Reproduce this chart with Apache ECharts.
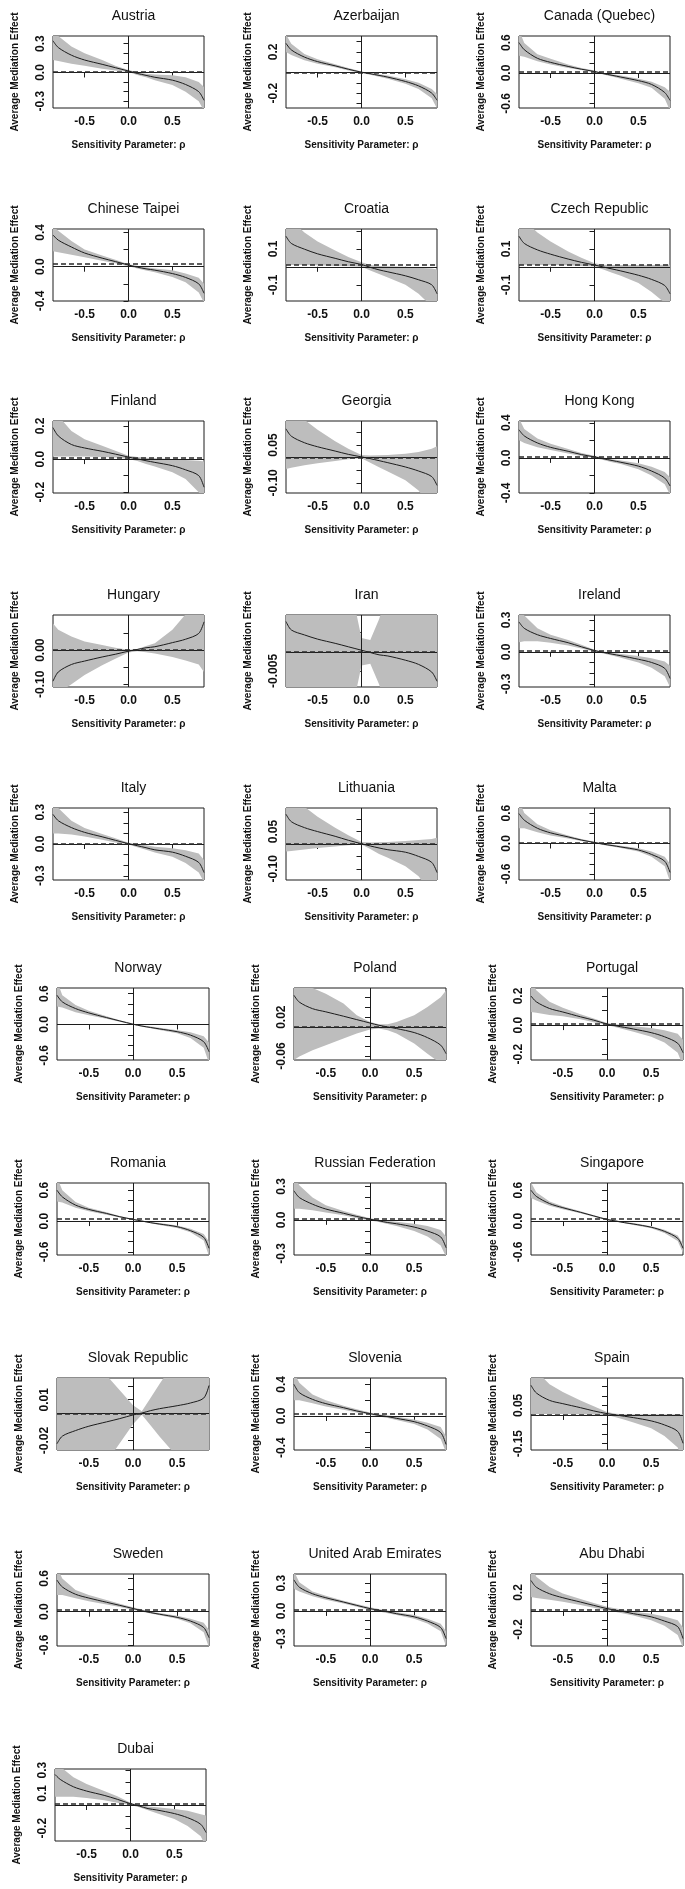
<!DOCTYPE html>
<html>
<head>
<meta charset="utf-8">
<script src="https://cdn.jsdelivr.net/npm/echarts@6/dist/echarts.min.js"></script>
<style>
  html, body { margin: 0; padding: 0; background: #fff; }
  #main { width: 685px; height: 1889px; }
</style>
</head>
<body>
<div id="main"></div>
<script>
// panels, left to right, top to bottom
const countries = ['Austria', 'Azerbaijan', 'Canada (Quebec)', 'Chinese Taipei', 'Croatia', 'Czech Republic',
  'Finland', 'Georgia', 'Hong Kong', 'Hungary', 'Iran', 'Ireland', 'Italy', 'Lithuania', 'Malta',
  'Norway', 'Poland', 'Portugal', 'Romania', 'Russian Federation', 'Singapore',
  'Slovak Republic', 'Slovenia', 'Spain', 'Sweden', 'United Arab Emirates', 'Abu Dhabi', 'Dubai'];

// sensitivity parameter rho (shared grid)
const rho = [-0.86, -0.8, -0.65, -0.5, -0.3, -0.15, 0, 0.1, 0.2, 0.3, 0.5, 0.65, 0.8, 0.86];
const xTicks = [-0.5, 0, 0.5];

const yMin = [-0.37, -0.345, -0.69, -0.4, -0.19, -0.19, -0.205, -0.14, -0.4, -0.108, -0.0092, -0.33, -0.34, -0.145,
  -0.72, -0.69, -0.068, -0.24, -0.66, -0.315, -0.66, -0.027, -0.43, -0.183, -0.62, -0.38, -0.38, -0.31];
const yMax = [0.38, 0.355, 0.73, 0.44, 0.21, 0.21, 0.23, 0.145, 0.42, 0.103, 0.0096, 0.345, 0.34, 0.145,
  0.7, 0.71, 0.08, 0.255, 0.74, 0.33, 0.74, 0.026, 0.48, 0.193, 0.68, 0.4, 0.4, 0.31];

const t01 = [-0.3, -0.2, -0.1, 0, 0.1, 0.2, 0.3];
const t02 = [-0.6, -0.4, -0.2, 0, 0.2, 0.4, 0.6];
const t04 = [-0.4, -0.2, 0, 0.2, 0.4];
const t005 = [-0.1, -0.05, 0, 0.05, 0.1];
const yTicks = [t01, t01, t02, t04, [-0.1, 0, 0.1, 0.2], [-0.1, 0, 0.1, 0.2], [-0.2, -0.1, 0, 0.1, 0.2], t005, t04,
  [-0.1, -0.05, 0, 0.05], [-0.005, 0, 0.005], t01, t01, t005, t02,
  t02, [-0.06, -0.04, -0.02, 0, 0.02, 0.04, 0.06], [-0.2, -0.1, 0, 0.1, 0.2], t02, t01, t02,
  [-0.02, -0.01, 0, 0.01, 0.02], t04, [-0.15, -0.1, -0.05, 0, 0.05, 0.1, 0.15], t02, t01, t01,
  [-0.2, -0.1, 0, 0.1, 0.2, 0.3]];
const yLabels = [['-0.3', '0.0', '0.3'], ['-0.2', '0.2'], ['-0.6', '0.0', '0.6'], ['-0.4', '0.0', '0.4'],
  ['-0.1', '0.1'], ['-0.1', '0.1'], ['-0.2', '0.0', '0.2'], ['-0.10', '0.05'], ['-0.4', '0.0', '0.4'],
  ['-0.10', '0.00'], ['-0.005'], ['-0.3', '0.0', '0.3'], ['-0.3', '0.0', '0.3'], ['-0.10', '0.05'],
  ['-0.6', '0.0', '0.6'], ['-0.6', '0.0', '0.6'], ['-0.06', '0.02'], ['-0.2', '0.0', '0.2'],
  ['-0.6', '0.0', '0.6'], ['-0.3', '0.0', '0.3'], ['-0.6', '0.0', '0.6'], ['-0.02', '0.01'],
  ['-0.4', '0.0', '0.4'], ['-0.15', '0.05'], ['-0.6', '0.0', '0.6'], ['-0.3', '0.0', '0.3'],
  ['-0.2', '0.2'], ['-0.2', '0.1', '0.3']];

// estimated ACME (dashed line); null = not drawn
const acme = [0.012, 0.004, 0.027, 0.025, 0.01, 0.008, 0.012, 0.003, 0.008, -0.001, 0.0002, 0.006, 0.004, 0.001,
  0.01, null, 0.0048, 0.005, 0.045, 0.006, 0.045, 0.0003, 0.03, 0.004, 0.04, 0.007, 0.007, 0.011];

const effect = [
  [0.33, 0.26, 0.18, 0.13, 0.085, 0.05, 0.015, -0.01, -0.03, -0.05, -0.08, -0.125, -0.2, -0.29],
  [0.284, 0.22, 0.15, 0.106, 0.065, 0.032, 0.003, -0.012, -0.028, -0.045, -0.087, -0.13, -0.2, -0.27],
  [0.6, 0.46, 0.29, 0.21, 0.13, 0.075, 0.03, -0.012, -0.045, -0.08, -0.15, -0.225, -0.385, -0.54],
  [0.37, 0.31, 0.23, 0.16, 0.1, 0.06, 0.02, -0.005, -0.025, -0.04, -0.08, -0.125, -0.2, -0.31],
  [0.17, 0.13, 0.098, 0.072, 0.047, 0.028, 0.013, -0.003, -0.017, -0.028, -0.05, -0.072, -0.1, -0.15],
  [0.17, 0.13, 0.094, 0.07, 0.043, 0.025, 0.01, -0.001, -0.012, -0.023, -0.047, -0.07, -0.104, -0.15],
  [0.19, 0.14, 0.088, 0.067, 0.047, 0.03, 0.012, 0.001, -0.01, -0.02, -0.04, -0.065, -0.1, -0.17],
  [0.114, 0.085, 0.059, 0.043, 0.026, 0.013, 0.003, -0.004, -0.012, -0.02, -0.037, -0.053, -0.075, -0.11],
  [0.32, 0.25, 0.17, 0.12, 0.075, 0.038, 0.011, -0.01, -0.03, -0.05, -0.094, -0.15, -0.23, -0.32],
  [-0.091, -0.064, -0.042, -0.032, -0.02, -0.012, -0.003, 0.002, 0.007, 0.01, 0.022, 0.032, 0.049, 0.083],
  [0.0079, 0.0057, 0.0044, 0.0033, 0.0022, 0.0013, 0.0004, -0.0002, -0.0008, -0.0011, -0.0022, -0.0033, -0.0053, -0.0077],
  [0.28, 0.22, 0.16, 0.125, 0.085, 0.047, 0.012, -0.006, -0.022, -0.037, -0.07, -0.1, -0.155, -0.25],
  [0.28, 0.22, 0.155, 0.11, 0.068, 0.035, 0.003, -0.016, -0.035, -0.055, -0.077, -0.116, -0.174, -0.27],
  [0.12, 0.09, 0.066, 0.05, 0.031, 0.015, 0.001, -0.008, -0.016, -0.023, -0.033, -0.05, -0.074, -0.115],
  [0.59, 0.46, 0.3, 0.21, 0.13, 0.068, 0.02, -0.014, -0.04, -0.068, -0.128, -0.216, -0.35, -0.57],
  [0.57, 0.44, 0.31, 0.226, 0.135, 0.07, 0.006, -0.03, -0.058, -0.085, -0.14, -0.206, -0.335, -0.53],
  [0.065, 0.051, 0.0375, 0.031, 0.022, 0.015, 0.008, 0.0034, 0, -0.0034, -0.0116, -0.022, -0.0375, -0.055],
  [0.2, 0.16, 0.114, 0.09, 0.057, 0.034, 0.007, -0.005, -0.016, -0.027, -0.052, -0.08, -0.125, -0.19],
  [0.6, 0.47, 0.31, 0.226, 0.148, 0.084, 0.032, 0, -0.032, -0.058, -0.11, -0.187, -0.316, -0.53],
  [0.26, 0.2, 0.14, 0.097, 0.059, 0.03, 0.006, -0.009, -0.024, -0.035, -0.065, -0.1, -0.153, -0.25],
  [0.6, 0.48, 0.34, 0.26, 0.17, 0.1, 0.03, 0, -0.032, -0.058, -0.12, -0.2, -0.335, -0.53],
  [-0.0224, -0.0168, -0.0127, -0.0095, -0.0063, -0.0039, -0.0012, 0.0002, 0.002, 0.0034, 0.0056, 0.0076, 0.0112, 0.0205],
  [0.4, 0.295, 0.21, 0.156, 0.105, 0.063, 0.03, 0.008, -0.008, -0.03, -0.072, -0.126, -0.21, -0.36],
  [0.155, 0.115, 0.076, 0.059, 0.038, 0.021, 0.007, 0, -0.007, -0.014, -0.031, -0.052, -0.086, -0.148],
  [0.57, 0.446, 0.314, 0.246, 0.17, 0.114, 0.057, 0.017, -0.017, -0.046, -0.103, -0.17, -0.286, -0.47],
  [0.336, 0.257, 0.186, 0.143, 0.096, 0.06, 0.025, 0.007, -0.01, -0.03, -0.064, -0.11, -0.18, -0.3],
  [0.33, 0.257, 0.186, 0.143, 0.096, 0.06, 0.025, 0.007, -0.01, -0.03, -0.064, -0.11, -0.17, -0.3],
  [0.263, 0.22, 0.157, 0.12, 0.083, 0.049, 0.011, -0.009, -0.031, -0.043, -0.074, -0.109, -0.166, -0.237]
];

const lower = [
  [0.13, 0.12, 0.09, 0.07, 0.04, 0.02, 0.005, -0.025, -0.05, -0.08, -0.13, -0.2, -0.3, -0.4],
  [0.2, 0.17, 0.12, 0.085, 0.05, 0.02, -0.005, -0.022, -0.04, -0.06, -0.11, -0.16, -0.25, -0.35],
  [0.34, 0.32, 0.23, 0.17, 0.1, 0.057, 0.017, -0.028, -0.068, -0.113, -0.2, -0.29, -0.51, -0.74],
  [0.18, 0.17, 0.14, 0.11, 0.07, 0.04, 0.005, -0.02, -0.045, -0.065, -0.12, -0.18, -0.3, -0.42],
  [0.01, 0.01, 0.01, 0.008, 0.005, 0.003, 0, -0.02, -0.04, -0.06, -0.1, -0.15, -0.22, -0.3],
  [0.012, 0.012, 0.01, 0.01, 0.008, 0.005, 0.002, -0.015, -0.033, -0.05, -0.09, -0.14, -0.2, -0.28],
  [0.015, 0.015, 0.015, 0.015, 0.012, 0.01, 0, -0.012, -0.03, -0.045, -0.08, -0.12, -0.2, -0.28],
  [-0.045, -0.04, -0.03, -0.022, -0.013, -0.006, -0.002, -0.02, -0.038, -0.055, -0.09, -0.13, -0.2, -0.27],
  [0.2, 0.17, 0.12, 0.09, 0.05, 0.02, -0.002, -0.025, -0.05, -0.07, -0.13, -0.2, -0.3, -0.42],
  [-0.15, -0.125, -0.1, -0.073, -0.044, -0.025, -0.007, -0.003, -0.006, -0.01, -0.02, -0.03, -0.042, -0.064],
  [-0.03, -0.03, -0.03, -0.03, -0.03, -0.02, -0.0036, -0.0031, -0.0085, -0.0155, -0.03, -0.03, -0.03, -0.03],
  [0.09, 0.1, 0.1, 0.085, 0.06, 0.03, 0.003, -0.015, -0.035, -0.055, -0.1, -0.15, -0.23, -0.33],
  [0.1, 0.1, 0.09, 0.07, 0.04, 0.015, -0.005, -0.03, -0.055, -0.08, -0.12, -0.18, -0.27, -0.36],
  [-0.03, -0.028, -0.022, -0.016, -0.01, -0.005, -0.002, -0.02, -0.04, -0.055, -0.09, -0.13, -0.2, -0.27],
  [0.3, 0.3, 0.22, 0.16, 0.1, 0.05, 0.005, -0.03, -0.06, -0.09, -0.16, -0.26, -0.45, -0.75],
  [0.35, 0.33, 0.24, 0.18, 0.11, 0.055, -0.005, -0.045, -0.075, -0.105, -0.17, -0.26, -0.45, -0.75],
  [-0.068, -0.061, -0.048, -0.0375, -0.024, -0.0136, -0.0055, -0.0034, -0.007, -0.0137, -0.034, -0.055, -0.075, -0.085],
  [0.09, 0.085, 0.07, 0.06, 0.04, 0.02, 0, -0.015, -0.03, -0.045, -0.08, -0.12, -0.19, -0.28],
  [0.38, 0.36, 0.26, 0.19, 0.125, 0.07, 0.02, -0.01, -0.045, -0.075, -0.135, -0.22, -0.38, -0.68],
  [0.1, 0.1, 0.085, 0.065, 0.04, 0.015, -0.005, -0.02, -0.038, -0.055, -0.1, -0.15, -0.23, -0.33],
  [0.45, 0.4, 0.3, 0.23, 0.15, 0.085, 0.015, -0.015, -0.045, -0.075, -0.14, -0.23, -0.39, -0.62],
  [-0.08, -0.075, -0.064, -0.054, -0.036, -0.022, -0.008, -0.001, -0.009, -0.017, -0.032, -0.044, -0.055, -0.06],
  [0.2, 0.2, 0.16, 0.12, 0.08, 0.045, 0.015, -0.008, -0.025, -0.05, -0.1, -0.17, -0.29, -0.46],
  [0.005, 0.005, 0.005, 0.005, 0.004, 0.003, 0, -0.012, -0.025, -0.04, -0.07, -0.11, -0.17, -0.25],
  [0.3, 0.3, 0.24, 0.19, 0.13, 0.085, 0.035, -0.003, -0.035, -0.065, -0.13, -0.21, -0.37, -0.65],
  [0.24, 0.21, 0.16, 0.12, 0.08, 0.045, 0.01, -0.007, -0.025, -0.045, -0.085, -0.135, -0.22, -0.38],
  [0.15, 0.14, 0.12, 0.1, 0.065, 0.035, 0.005, -0.012, -0.03, -0.05, -0.1, -0.16, -0.26, -0.4],
  [0.07, 0.07, 0.07, 0.06, 0.04, 0.02, 0, -0.02, -0.045, -0.07, -0.12, -0.18, -0.27, -0.36]
];

const upper = [
  [0.45, 0.38, 0.27, 0.2, 0.13, 0.07, 0.025, 0.002, -0.012, -0.02, -0.03, -0.05, -0.1, -0.15],
  [0.37, 0.28, 0.18, 0.13, 0.08, 0.045, 0.01, -0.004, -0.018, -0.03, -0.065, -0.1, -0.16, -0.21],
  [0.85, 0.59, 0.37, 0.28, 0.17, 0.1, 0.05, 0.006, -0.023, -0.05, -0.113, -0.17, -0.28, -0.37],
  [0.47, 0.42, 0.3, 0.2, 0.13, 0.08, 0.03, 0.01, -0.005, -0.02, -0.04, -0.08, -0.13, -0.2],
  [0.33, 0.26, 0.19, 0.14, 0.09, 0.055, 0.025, 0.01, 0.004, 0.003, 0, -0.005, -0.01, -0.015],
  [0.33, 0.26, 0.19, 0.14, 0.085, 0.05, 0.02, 0.012, 0.01, 0.01, 0.01, 0.01, 0.012, 0.012],
  [0.33, 0.26, 0.17, 0.12, 0.08, 0.05, 0.02, 0.012, 0.008, 0.005, 0, -0.005, -0.01, -0.015],
  [0.28, 0.21, 0.15, 0.11, 0.065, 0.035, 0.01, 0.008, 0.009, 0.01, 0.015, 0.022, 0.035, 0.045],
  [0.45, 0.33, 0.22, 0.16, 0.1, 0.055, 0.025, 0.003, -0.015, -0.03, -0.06, -0.1, -0.16, -0.22],
  [0.078, 0.06, 0.04, 0.025, 0.015, 0.007, 0.001, 0.003, 0.012, 0.02, 0.06, 0.105, 0.15, 0.18],
  [0.03, 0.03, 0.03, 0.03, 0.03, 0.02, 0.0036, 0.0031, 0.0085, 0.0155, 0.03, 0.03, 0.03, 0.03],
  [0.45, 0.34, 0.22, 0.16, 0.11, 0.065, 0.02, 0.003, -0.008, -0.02, -0.04, -0.06, -0.09, -0.13],
  [0.45, 0.34, 0.22, 0.15, 0.095, 0.055, 0.012, -0.003, -0.012, -0.025, -0.04, -0.06, -0.09, -0.15],
  [0.28, 0.21, 0.15, 0.11, 0.065, 0.035, 0.008, 0.006, 0.007, 0.008, 0.012, 0.016, 0.02, 0.025],
  [0.85, 0.6, 0.38, 0.26, 0.16, 0.09, 0.035, 0.002, -0.02, -0.045, -0.095, -0.16, -0.26, -0.4],
  [0.85, 0.57, 0.38, 0.27, 0.16, 0.085, 0.018, -0.015, -0.04, -0.065, -0.11, -0.15, -0.23, -0.35],
  [0.1, 0.092, 0.08, 0.068, 0.048, 0.024, 0.01, 0.0055, 0.0055, 0.01, 0.024, 0.041, 0.061, 0.075],
  [0.32, 0.24, 0.16, 0.12, 0.075, 0.045, 0.015, 0.005, 0, -0.008, -0.02, -0.035, -0.06, -0.1],
  [0.85, 0.6, 0.37, 0.26, 0.17, 0.1, 0.045, 0.012, -0.018, -0.04, -0.085, -0.15, -0.25, -0.4],
  [0.4, 0.31, 0.2, 0.13, 0.08, 0.045, 0.015, 0, -0.01, -0.018, -0.035, -0.055, -0.09, -0.15],
  [0.75, 0.56, 0.38, 0.29, 0.19, 0.115, 0.045, 0.015, -0.018, -0.04, -0.1, -0.17, -0.28, -0.44],
  [0.068, 0.063, 0.052, 0.043, 0.028, 0.017, 0.006, 0.0015, 0.0115, 0.0215, 0.041, 0.056, 0.07, 0.077],
  [0.55, 0.42, 0.27, 0.2, 0.13, 0.085, 0.045, 0.02, 0.008, -0.01, -0.045, -0.085, -0.14, -0.26],
  [0.3, 0.23, 0.16, 0.12, 0.075, 0.045, 0.015, 0.006, 0.004, 0.004, 0.004, 0.004, 0.004, 0.004],
  [0.8, 0.6, 0.39, 0.3, 0.21, 0.145, 0.08, 0.037, 0, -0.025, -0.075, -0.13, -0.2, -0.33],
  [0.43, 0.31, 0.21, 0.165, 0.11, 0.075, 0.04, 0.02, 0.005, -0.015, -0.045, -0.085, -0.14, -0.22],
  [0.5, 0.37, 0.26, 0.19, 0.13, 0.085, 0.045, 0.025, 0.01, -0.01, -0.03, -0.06, -0.1, -0.18],
  [0.4, 0.33, 0.24, 0.18, 0.12, 0.075, 0.02, 0.002, -0.012, -0.02, -0.035, -0.05, -0.08, -0.09]
];

// page layout (the panels are not on a perfectly regular grid)
const rowTop = [36, 229, 421, 615, 808, 988, 1183, 1378, 1574, 1769];
const boxH = 72;
function boxLeft(row, col) {
  if (row === 9) return 55;
  if (row >= 5) return 57 + 237 * col;
  return 53 + 233 * col;
}

const font = 'Liberation Sans, Arial, Helvetica, sans-serif';
const ink = '#1c1c1c';

var myChart = echarts.init(document.getElementById('main'));
var option = { animation: false, textStyle: { fontFamily: font }, title: [], grid: [], xAxis: [], yAxis: [], series: [] };

countries.forEach(function (name, i) {
  const row = Math.floor(i / 3), col = i % 3;
  const left = boxLeft(row, col);
  const top = rowTop[row];
  const w = row >= 5 && row <= 8 ? 152 : 151;

  option.grid.push({ left: left, top: top, width: w, height: boxH, show: true,
    borderColor: ink, borderWidth: 1, backgroundColor: 'transparent' });

  option.title.push({ text: name, left: left + w / 2, top: top - 32, textAlign: 'center',
    textStyle: { fontFamily: font, fontSize: 14, fontWeight: 'normal', color: '#111' } });

  option.xAxis.push({
    type: 'value', gridIndex: i, min: -0.86, max: 0.86,
    name: 'Sensitivity Parameter: \u03c1', nameLocation: 'middle', nameGap: 32,
    nameTextStyle: { fontFamily: font, fontSize: 10, fontWeight: 'bold', color: '#111' },
    axisLine: { show: false }, splitLine: { show: false },
    axisTick: { show: true, length: 5, customValues: xTicks, lineStyle: { color: ink } },
    axisLabel: { customValues: xTicks, margin: 8, fontSize: 12, fontWeight: 'bold', color: '#111',
      formatter: function (v) { return v.toFixed(1); } }
  });

  const labs = yLabels[i];
  option.yAxis.push({
    type: 'value', gridIndex: i, min: yMin[i], max: yMax[i],
    name: 'Average Mediation Effect', nameLocation: 'middle', nameGap: 33, nameRotate: 90,
    nameTextStyle: { fontFamily: font, fontSize: 10, fontWeight: 'bold', color: '#111' },
    axisLine: { show: false }, splitLine: { show: false },
    axisTick: { show: true, length: 5, customValues: yTicks[i], lineStyle: { color: ink } },
    axisLabel: { customValues: labs.map(Number), rotate: 90, margin: 6, fontSize: 12, fontWeight: 'bold', color: '#111',
      formatter: function (v) {
        const s = labs.find(function (t) { return Math.abs(Number(t) - v) < 1e-9; });
        return s === undefined ? '' : s;
      } }
  });

  // confidence band as one polygon through the axis scales
  option.series.push({
    type: 'custom', xAxisIndex: i, yAxisIndex: i, clip: true, silent: true, z: 1,
    data: [[0, 0]],
    renderItem: function (params, api) {
      const pts = [];
      for (let k = 0; k < rho.length; k++) pts.push(api.coord([rho[k], upper[i][k]]));
      for (let k = rho.length - 1; k >= 0; k--) pts.push(api.coord([rho[k], lower[i][k]]));
      return { type: 'polygon', shape: { points: pts }, style: { fill: '#bdbdbd' } };
    }
  });

  const marks = [
    { xAxis: 0, lineStyle: { color: ink, width: 1, type: 'solid' } },
    { yAxis: 0, lineStyle: { color: ink, width: 1, type: 'solid' } }
  ];
  if (acme[i] !== null) marks.push({ yAxis: acme[i], lineStyle: { color: '#2a2a2a', width: 1.6, type: [5, 3] } });

  option.series.push({
    type: 'line', xAxisIndex: i, yAxisIndex: i, z: 3, silent: true,
    data: rho.map(function (r, k) { return [r, effect[i][k]]; }),
    smooth: 0.3, showSymbol: false, clip: true,
    lineStyle: { color: ink, width: 1 },
    markLine: { silent: true, symbol: ['none', 'none'], label: { show: false }, animation: false, data: marks }
  });
});

myChart.setOption(option);
</script>
</body>
</html>
